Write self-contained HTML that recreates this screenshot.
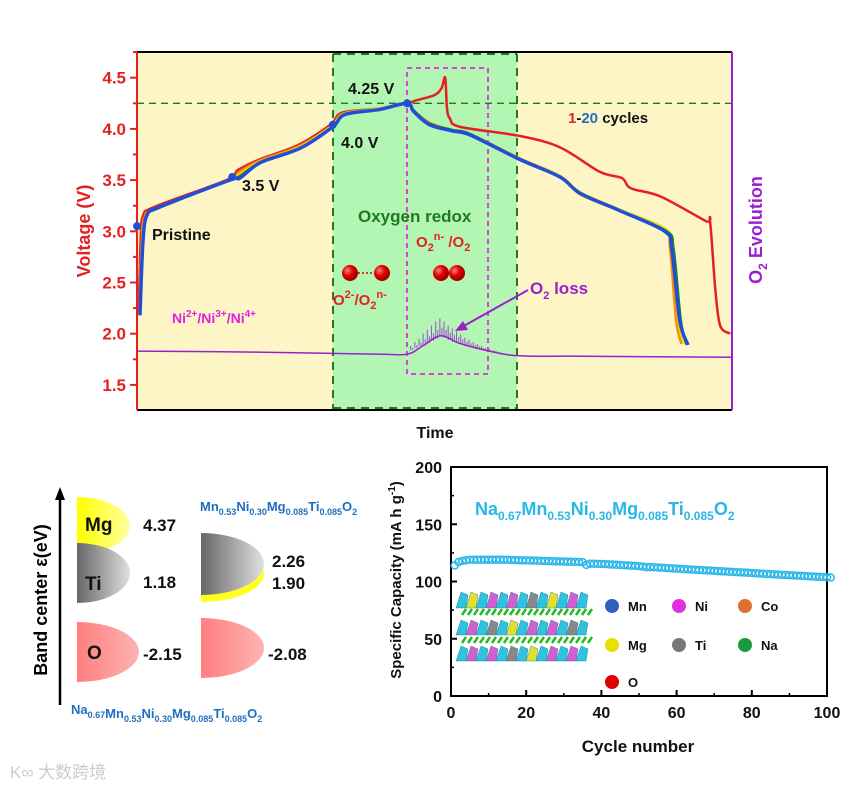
<!DOCTYPE html>
<html><head><meta charset="utf-8"><style>
html,body{margin:0;padding:0;background:#fff;width:865px;height:787px;overflow:hidden}
svg{display:block;font-family:"Liberation Sans",Arial,sans-serif;font-weight:bold}
</style></head><body>
<svg id="fig" width="865" height="787" viewBox="0 0 865 787">
<defs>
<radialGradient id="ball" cx="35%" cy="35%" r="65%"><stop offset="0" stop-color="#ff8080"/><stop offset="0.5" stop-color="#e00000"/><stop offset="1" stop-color="#900"/></radialGradient>
<linearGradient id="gY" x1="0" x2="1"><stop offset="0" stop-color="#ffff00"/><stop offset="1" stop-color="#ffffa0"/></linearGradient>
<linearGradient id="gT" x1="0" x2="1"><stop offset="0" stop-color="#666"/><stop offset="1" stop-color="#e0e0e0"/></linearGradient>
<linearGradient id="gP" x1="0" x2="1"><stop offset="0" stop-color="#ff7f7f"/><stop offset="1" stop-color="#ffb3b3"/></linearGradient>
</defs>
<g id="top"></g>
<g id="bl"></g>
<g id="br"></g>
<text x="10" y="778" font-size="17" fill="#ccc" font-weight="normal" font-family="'Liberation Sans','Noto Sans CJK SC',sans-serif">K∞ 大数跨境</text>
</svg>
<script>
// ---------- top chart data ----------
const vTicks = [1.5, 2.0, 2.5, 3.0, 3.5, 4.0, 4.5];
const cycle1 = [[0.3,2.2],[0.6,2.9],[1.0,3.15],[3,3.24],[15,3.5],[17,3.6],[20.5,3.7],[27,3.84],[32.5,4.04],[34.5,4.16],[40.8,4.2],[45.4,4.25],[47,4.28],[50,4.33],[51.2,4.4],[51.8,4.5],[52.1,4.2],[52.6,4.1],[54.3,4.02],[64.4,3.93],[71.1,3.82],[77.8,3.58],[81.5,3.52],[83,3.42],[88,3.34],[95.6,3.1],[96.3,3.1],[97.2,2.43],[98,2.08],[99.7,2.0]];
const cycle2 = [[0.4,2.2],[0.8,2.9],[1.3,3.14],[3.3,3.23],[15.3,3.5],[17.2,3.58],[20.6,3.69],[27.2,3.83],[32.7,4.03],[34.7,4.15],[40.8,4.2],[45.4,4.25],[46.5,4.18],[49.2,4.06],[53,3.99],[56,3.95],[64.4,3.71],[71.1,3.54],[74.5,3.36],[81.2,3.2],[88.6,3.02],[89.6,2.82],[90.6,2.13],[91.5,1.9]];
const cycle5 = [[0.5,2.2],[0.9,2.9],[1.5,3.14],[3.6,3.23],[15.5,3.5],[17.3,3.56],[20.7,3.68],[27.3,3.82],[32.8,4.03],[34.8,4.15],[40.8,4.2],[45.4,4.25],[46.5,4.18],[49.2,4.05],[53,3.99],[56,3.95],[64.4,3.7],[71.1,3.54],[74.5,3.38],[81.2,3.21],[88.9,3.02],[90,2.82],[91,2.13],[92,1.9]];
const cycle10 = [[0.5,2.2],[1.0,2.9],[1.6,3.15],[3.8,3.23],[15.6,3.5],[17.3,3.54],[20.7,3.67],[27.4,3.81],[32.9,4.02],[34.9,4.14],[40.8,4.19],[45.4,4.25],[46.5,4.18],[49.2,4.05],[53,3.99],[56,3.95],[64.4,3.7],[71.1,3.53],[74.5,3.37],[81.2,3.2],[89,3.0],[90.2,2.82],[91.4,2.13],[92.4,1.89]];
const cycle20 = [[0.5,2.18],[1.0,2.9],[1.7,3.16],[3.9,3.24],[15.6,3.5],[17.3,3.52],[20.7,3.67],[27.4,3.81],[32.9,4.02],[34.9,4.14],[40.8,4.19],[45.4,4.25],[46.5,4.17],[49.2,4.04],[53,3.98],[56,3.94],[64.4,3.7],[71.1,3.53],[74.5,3.37],[81.2,3.2],[88.7,3.0],[89.9,2.82],[91.2,2.13],[92.6,1.89]];
const o2Evolution = [[0,1.83],[20,1.82],[40,1.8],[45.4,1.8],[48,1.88],[51,1.98],[54,1.91],[57,1.86],[60,1.82],[63,1.79],[67,1.78],[75,1.78],[100,1.77]];
const o2Spikes = [[46,1.84,1.88],[46.7,1.86,1.92],[47.4,1.88,1.95],[48.1,1.89,2.0],[48.8,1.91,2.04],[49.5,1.93,2.08],[50.2,1.95,2.12],[50.9,1.97,2.15],[51.6,1.96,2.12],[52.3,1.94,2.08],[53,1.92,2.05],[53.7,1.91,2.02],[54.4,1.9,1.99],[55.1,1.88,1.96],[55.8,1.87,1.94],[56.5,1.86,1.92],[57.2,1.85,1.9],[57.9,1.84,1.88],[58.6,1.83,1.86],[59.3,1.82,1.85],[60,1.82,1.84]];
const markers = [[0,3.05],[16,3.53],[32.9,4.04],[45.4,4.25]];
// ---------- capacity data ----------
const cycleTicks = [0,20,40,60,80,100];
const capTicks = [0,50,100,150,200];
const capacity = [114,117,118,118.5,119,119,119,119,119,119,119,119,119,119,119,118.8,118.7,118.6,118.5,118.4,118.3,118.2,118.1,118,117.9,117.8,117.7,117.6,117.5,117.4,117.3,117.2,117.1,117,116.9,114.5,115.5,115.5,115.4,115.3,115.2,115,114.8,114.6,114.4,114.2,114,113.8,113.6,113.4,113,112.6,112.6,112.4,112.2,112,111.8,111.6,111.4,111.2,111,110.8,110.6,110.4,110.2,110,109.8,109.7,109.5,109.3,109.1,108.9,108.7,108.5,108.3,108.1,108,107.8,107.6,107.4,107.2,107,106.8,106.6,106.4,106.2,106,105.8,105.7,105.5,105.3,105.1,105,104.8,104.6,104.4,104.2,104,103.9,103.7,103.5];
const bandLeft = ["4.37","1.18","-2.15"];
const bandRight = ["2.26","1.90","-2.08"];

const NS="http://www.w3.org/2000/svg";
function mk(parent, tag, attrs, text){const e=document.createElementNS(NS,tag);for(const k in attrs)e.setAttribute(k,attrs[k]);if(text!==undefined)e.textContent=text;parent.appendChild(e);return e;}
function smooth(pts){let d='M'+pts[0][0]+','+pts[0][1];for(let i=0;i<pts.length-1;i++){const p0=pts[Math.max(0,i-1)],p1=pts[i],p2=pts[i+1],p3=pts[Math.min(pts.length-1,i+2)];const k=0.16;d+=` C${p1[0]+(p2[0]-p0[0])*k},${p1[1]+(p2[1]-p0[1])*k} ${p2[0]-(p3[0]-p1[0])*k},${p2[1]-(p3[1]-p1[1])*k} ${p2[0]},${p2[1]}`;}return d;}

// ---------- top ----------
const T=document.getElementById('top');
const X0=137,X1=732,Y0=52,Y1=410;
const tx=t=>X0+t*(X1-X0)/100;
const vy=v=>77.7+(4.5-v)*102.4;
let e;
e=mk(T,'rect',{x:X0,y:Y0,width:X1-X0,height:Y1-Y0,fill:'#fdf5c6'});


e=mk(T,'rect',{x:333,y:Y0,width:184,height:Y1-Y0,fill:'#b3f5b3'});


mk(T,'line',{x1:333,y1:Y0+2,x2:333,y2:Y1,stroke:'#1f7a1f','stroke-width':2,'stroke-dasharray':'8,6'});
mk(T,'line',{x1:517,y1:Y0+2,x2:517,y2:Y1,stroke:'#1f7a1f','stroke-width':2,'stroke-dasharray':'8,6'});
mk(T,'line',{x1:333,y1:Y0+2,x2:517,y2:Y0+2,stroke:'#1f7a1f','stroke-width':2,'stroke-dasharray':'8,6'});
mk(T,'line',{x1:333,y1:Y1-2,x2:517,y2:Y1-2,stroke:'#1f7a1f','stroke-width':2,'stroke-dasharray':'8,6'});
e=mk(T,'rect',{x:407,y:68,width:81,height:306,fill:'none',stroke:'#e040e0','stroke-width':2,'stroke-dasharray':'5,4'});


e=mk(T,'line',{x1:X0,y1:vy(4.25),x2:X1,y2:vy(4.25),stroke:'#1f7a1f','stroke-width':1.3,'stroke-dasharray':'7,5'});


mk(T,'line',{x1:X0,y1:Y0,x2:X1,y2:Y0,stroke:'#000','stroke-width':2});
mk(T,'line',{x1:X0,y1:Y1,x2:X1,y2:Y1,stroke:'#000','stroke-width':2});
e=mk(T,'line',{x1:X0,y1:Y0,x2:X0,y2:Y1,stroke:'#e52020','stroke-width':2});


e=mk(T,'line',{x1:X1,y1:Y0,x2:X1,y2:Y1,stroke:'#9a1fcf','stroke-width':2});


vTicks.forEach(v=>{
  mk(T,'line',{x1:X0-7,y1:vy(v),x2:X0,y2:vy(v),stroke:'#e52020','stroke-width':2});
  mk(T,'line',{x1:X0-4,y1:vy(v+0.25),x2:X0,y2:vy(v+0.25),stroke:'#e52020','stroke-width':2});
  e=mk(T,'text',{x:X0-11,y:vy(v)+6,'font-size':17,fill:'#e52020','text-anchor':'end'},v.toFixed(1));
  
  
});
e=mk(T,'text',{x:0,y:0,'font-size':18,fill:'#e52020','text-anchor':'middle',transform:'translate(90,231) rotate(-90)'},'Voltage (V)');


e=mk(T,'text',{x:0,y:0,'font-size':18,fill:'#9a1fcf','text-anchor':'middle',transform:'translate(762,230) rotate(-90)'});
e.innerHTML='O<tspan font-size="12" dy="5">2</tspan><tspan dy="-5"> Evolution</tspan>';


e=mk(T,'text',{x:435,y:438,'font-size':16,fill:'#111','text-anchor':'middle'},'Time');


o2Spikes.forEach(s=>{
  mk(T,'line',{x1:tx(s[0]),y1:vy(s[1]),x2:tx(s[0]),y2:vy(s[2]),stroke:'#a050d0','stroke-width':1});
  mk(T,'line',{x1:tx(s[0]+0.35),y1:vy(s[1]),x2:tx(s[0]+0.35),y2:vy((s[1]+s[2])/2),stroke:'#a050d0','stroke-width':1});
});
e=mk(T,'path',{d:smooth(o2Evolution.map(p=>[tx(p[0]),vy(p[1])])),fill:'none',stroke:'#9a1fcf','stroke-width':1.5});


const series=[[cycle1,'#e52020','cycle-1'],[cycle2,'#ff8c00','cycle-2'],[cycle5,'#e8e000','cycle-5'],[cycle10,'#1a8a1a','cycle-10'],[cycle20,'#1f4fd8','cycle-20']];
series.forEach(s=>{
  e=mk(T,'path',{d:smooth(s[0].map(p=>[tx(p[0]),vy(p[1])])),fill:'none',stroke:s[1],'stroke-width':s[2]==='cycle-20'?3.5:2.5,'stroke-linejoin':'round'});
  
  
});
markers.forEach(m=>{
  e=mk(T,'circle',{cx:tx(m[0]),cy:vy(m[1]),r:4,fill:'#1f4fd8'});
  
  
});
const lab=(x,y,s,c,n,fs)=>{const t=mk(T,'text',{x:x,y:y,'font-size':fs||16,fill:c});t.innerHTML=s;return t;};
lab(348,94,'4.25 V','#111','label-4-25v');
lab(341,148,'4.0 V','#111','label-4-0v');
lab(242,191,'3.5 V','#111','label-3-5v');
lab(152,240,'Pristine','#111','label-pristine');
lab(358,222,'Oxygen redox','#1f7a1f','label-oxygen-redox',17);
lab(416,247,'O<tspan font-size="11" dy="4">2</tspan><tspan font-size="11" dy="-11">n-</tspan><tspan dy="7"> /O</tspan><tspan font-size="11" dy="4">2</tspan>','#e52020','label-o2n-o2',15);
lab(333,305,'O<tspan font-size="11" dy="-7">2-</tspan><tspan dy="7">/O</tspan><tspan font-size="11" dy="4">2</tspan><tspan font-size="11" dy="-11">n-</tspan>','#e52020','label-o2-o2n',15);
lab(172,323,'Ni<tspan font-size="10" dy="-6">2+</tspan><tspan dy="6">/Ni</tspan><tspan font-size="10" dy="-6">3+</tspan><tspan dy="6">/Ni</tspan><tspan font-size="10" dy="-6">4+</tspan>','#e020e0','label-ni-redox',14);
lab(530,294,'O<tspan font-size="11" dy="5">2</tspan><tspan dy="-5"> loss</tspan>','#9a1fcf','label-o2-loss',17);
lab(568,123,'<tspan fill="#e52020">1</tspan>-<tspan fill="#1f6fc0">20</tspan> cycles','#111','label-cycles',15);
e=mk(T,'line',{x1:528,y1:290,x2:462,y2:327,stroke:'#9a1fcf','stroke-width':2});


mk(T,'polygon',{points:'455,331 463,321 468,330',fill:'#9a1fcf'});
[[350,273],[382,273],[441,273],[457,273]].forEach(p=>{
  e=mk(T,'circle',{cx:p[0],cy:p[1],r:8,fill:'url(#ball)'});
  
  
});
mk(T,'line',{x1:358,y1:273,x2:374,y2:273,stroke:'#c00','stroke-width':1.5,'stroke-dasharray':'2,2'});

// ---------- bottom left ----------
const B=document.getElementById('bl');
e=mk(B,'line',{x1:60,y1:705,x2:60,y2:495,stroke:'#000','stroke-width':2.5});


mk(B,'polygon',{points:'60,487 55,500 65,500',fill:'#000'});
e=mk(B,'text',{x:0,y:0,'font-size':18,fill:'#000','text-anchor':'middle',transform:'translate(47,600) rotate(-90)'},'Band center ε(eV)');


const half=(x,y,w,h,fill,n)=>{const p=mk(B,'path',{d:`M${x},${y} A${w},${h/2} 0 0 1 ${x},${y+h} Z`,fill:fill});};
half(77,497,53,57,'url(#gY)','mg-band');
half(77,543,53,60,'url(#gT)','ti-band');
half(77,622,62,60,'url(#gP)','o-band-left');
half(201,545,63,57,'#ffff20','mg-band-right');
half(201,533,63,62,'url(#gT)','ti-band-right');
half(201,618,63,60,'url(#gP)','o-band-right');
const bt=(x,y,s,n,c,fs)=>{const t=mk(B,'text',{x:x,y:y,'font-size':fs||17,fill:c||'#111'});t.innerHTML=s;};
bt(85,531,'Mg','label-mg',0,19);bt(85,590,'Ti','label-ti',0,19);bt(87,659,'O','label-o',0,19);
bt(143,531,bandLeft[0],'value-mg');bt(143,588,bandLeft[1],'value-ti');bt(143,660,bandLeft[2],'value-o-left');
bt(272,567,bandRight[0],'value-ti-right');bt(272,589,bandRight[1],'value-mg-right');bt(268,660,bandRight[2],'value-o-right');
const formula=(pre)=>pre+'Mn<tspan font-size="9" dy="4">0.53</tspan><tspan dy="-4">Ni</tspan><tspan font-size="9" dy="4">0.30</tspan><tspan dy="-4">Mg</tspan><tspan font-size="9" dy="4">0.085</tspan><tspan dy="-4">Ti</tspan><tspan font-size="9" dy="4">0.085</tspan><tspan dy="-4">O</tspan><tspan font-size="9" dy="4">2</tspan>';
bt(200,511,formula(''),'formula-top','#1f6fc0',13);
bt(71,714,formula('Na<tspan font-size="9" dy="4">0.67</tspan><tspan dy="-4"></tspan>'),'formula-bottom','#1f6fc0',13);

// ---------- bottom right ----------
const R=document.getElementById('br');
const PX0=451,PX1=827,PY0=467,PY1=696;
const cx=c=>PX0+c*(PX1-PX0)/100;
const cy=v=>PY1-v*(PY1-PY0)/200;
e=mk(R,'rect',{x:PX0,y:PY0,width:PX1-PX0,height:PY1-PY0,fill:'none',stroke:'#000','stroke-width':2});


cycleTicks.forEach(c=>{
  mk(R,'line',{x1:cx(c),y1:PY1,x2:cx(c),y2:PY1-6,stroke:'#000','stroke-width':2});
  if(c<100)mk(R,'line',{x1:cx(c+10),y1:PY1,x2:cx(c+10),y2:PY1-3,stroke:'#000','stroke-width':1.5});
  e=mk(R,'text',{x:cx(c),y:PY1+22,'font-size':16,fill:'#111','text-anchor':'middle'},c);
  
  
});
capTicks.forEach(v=>{
  mk(R,'line',{x1:PX0,y1:cy(v),x2:PX0+6,y2:cy(v),stroke:'#000','stroke-width':2});
  if(v<200)mk(R,'line',{x1:PX0,y1:cy(v+25),x2:PX0+3,y2:cy(v+25),stroke:'#000','stroke-width':1.5});
  e=mk(R,'text',{x:PX0-9,y:cy(v)+6,'font-size':16,fill:'#111','text-anchor':'end'},v);
  
  
});
e=mk(R,'text',{x:638,y:752,'font-size':17,fill:'#111','text-anchor':'middle'},'Cycle number');


e=mk(R,'text',{x:0,y:0,'font-size':15,fill:'#111','text-anchor':'middle',transform:'translate(401,580) rotate(-90)'});
e.innerHTML='Specific Capacity (mA h g<tspan font-size="10" dy="-6">-1</tspan><tspan dy="6">)</tspan>';


e=mk(R,'text',{x:475,y:515,'font-size':18,fill:'#29b6e8'});
e.innerHTML='Na<tspan font-size="12" dy="5">0.67</tspan><tspan dy="-5">Mn</tspan><tspan font-size="12" dy="5">0.53</tspan><tspan dy="-5">Ni</tspan><tspan font-size="12" dy="5">0.30</tspan><tspan dy="-5">Mg</tspan><tspan font-size="12" dy="5">0.085</tspan><tspan dy="-5">Ti</tspan><tspan font-size="12" dy="5">0.085</tspan><tspan dy="-5">O</tspan><tspan font-size="12" dy="5">2</tspan>';


capacity.forEach((v,i)=>{
  const p=mk(R,'circle',{cx:cx(i+1),cy:cy(v),r:3.5,fill:'none',stroke:'#29b6e8','stroke-width':1.5});
  
  
});
const cg=mk(R,'g',{});


const cols=['#2ec4e0','#d060d0','#2ec4e0','#e0e030','#2ec4e0','#888','#2ec4e0','#d060d0'];
[[592,16],[620,15],[646,15]].forEach(L=>{
  for(let i=0;i<13;i++){mk(cg,'polygon',{points:`${456+i*10},${L[0]+L[1]} ${461+i*10},${L[0]} ${468+i*10},${L[0]+3} ${466+i*10},${L[0]+L[1]}`,fill:cols[(i*3+L[0])%8],stroke:'#1a7090','stroke-width':0.4});}
});
[612,640].forEach(y=>{for(let i=0;i<22;i++)mk(cg,'line',{x1:462+i*6,y1:y+3,x2:466+i*6,y2:y-3,stroke:'#22bb22','stroke-width':2.5});});
const leg=[['Mn','#3060c0',612,606],['Ni','#e030e0',679,606],['Co','#e07030',745,606],['Mg','#e8e000',612,645],['Ti','#777',679,645],['Na','#1a9a3a',745,645],['O','#e00000',612,682]];
leg.forEach(l=>{
  const c=mk(R,'circle',{cx:l[2],cy:l[3],r:7,fill:l[1]});
  
  
  const t=mk(R,'text',{x:l[2]+16,y:l[3]+5,'font-size':13,fill:'#111'},l[0]);
  
  
});
</script>
</body></html>
